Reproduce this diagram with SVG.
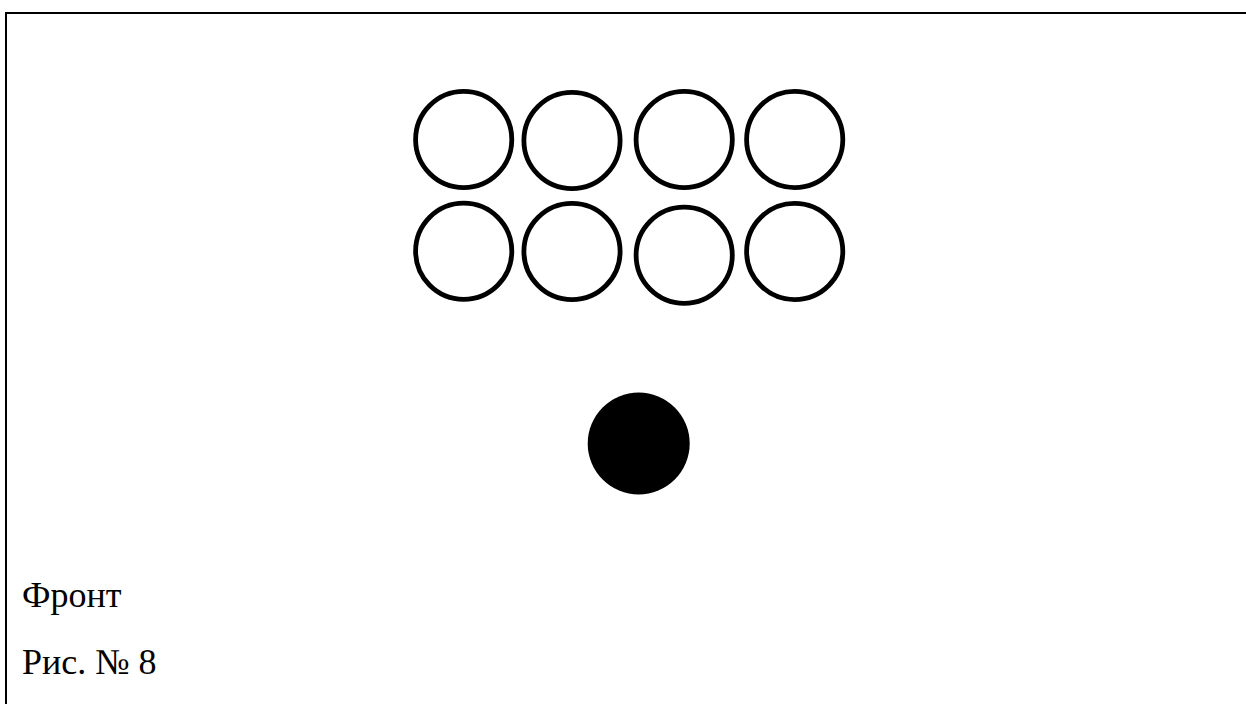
<svg xmlns="http://www.w3.org/2000/svg" width="1246" height="704" viewBox="0 0 1246 704">
<style>
.ring{fill:none;stroke:#000;stroke-width:4.8}
.dot{fill:#000}
.lbl{font-family:"Liberation Serif","Times New Roman",serif;font-size:36px;fill:#000}
.frame{fill:none;stroke:#000;stroke-width:2}
</style>
<rect width="1246" height="704" fill="#fff"/>
<path class="frame" d="M6,704 V13 H1246"/>
<g id="ring-1-1"><circle class="ring" cx="463.7" cy="139.5" r="48.1"/></g>
<g id="ring-1-2"><circle class="ring" cx="572" cy="140.5" r="48.1"/></g>
<g id="ring-1-3"><circle class="ring" cx="684.2" cy="139.5" r="48.1"/></g>
<g id="ring-1-4"><circle class="ring" cx="794.7" cy="139.5" r="48.1"/></g>
<g id="ring-2-1"><circle class="ring" cx="463.7" cy="251.2" r="48.1"/></g>
<g id="ring-2-2"><circle class="ring" cx="572" cy="251.5" r="48.1"/></g>
<g id="ring-2-3"><circle class="ring" cx="684.2" cy="255.3" r="48.1"/></g>
<g id="ring-2-4"><circle class="ring" cx="794.7" cy="251.5" r="48.1"/></g>
<g id="leader"><circle class="dot" cx="638.7" cy="443.5" r="51"/></g>
<g id="connectors"></g>
<text class="lbl" x="22" y="606.5">Фронт</text>
<text class="lbl" x="22" y="674">Рис. № 8</text>
</svg>
